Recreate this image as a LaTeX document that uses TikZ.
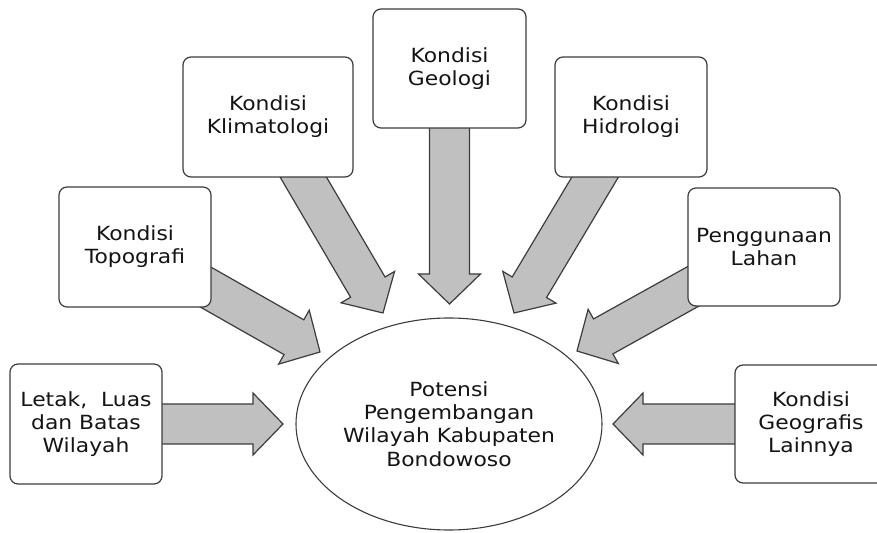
\documentclass[tikz,border=0pt]{standalone}
\usepackage{fontspec}
\setmainfont[FakeStretch=1.12]{DejaVu Sans}
\usetikzlibrary{shapes.geometric,calc,backgrounds}
\definecolor{boxline}{HTML}{3C3C3C}
\definecolor{arrowfill}{HTML}{C0C0C0}
\definecolor{textcol}{HTML}{141414}
\begin{document}
\begin{tikzpicture}[line join=bevel,
  faktor/.style={draw=boxline,fill=white,line width=1.2bp,rounded corners=8bp,minimum width=152bp,minimum height=120bp,inner sep=0pt,align=center,text=textcol,font=\fontsize{19.5bp}{23bp}\selectfont},
  pusat/.style={ellipse,draw=boxline,fill=white,line width=1.1bp,minimum width=306bp,minimum height=212bp,inner sep=0pt,align=center,text=textcol,font=\fontsize{19.5bp}{23.3bp}\selectfont},
  blockarrow/.style={draw=boxline,fill=arrowfill,line width=1.2bp,line join=miter,
    to path={($(\tikztostart)!20bp!90:(\tikztotarget)$)
      -- ($(\tikztotarget)!30bp!(\tikztostart)!20bp!-90:(\tikztostart)$)
      -- ($(\tikztotarget)!30bp!(\tikztostart)!31bp!-90:(\tikztostart)$)
      -- (\tikztotarget)
      -- ($(\tikztotarget)!30bp!(\tikztostart)!31bp!90:(\tikztostart)$)
      -- ($(\tikztotarget)!30bp!(\tikztostart)!20bp!90:(\tikztostart)$)
      -- ($(\tikztostart)!20bp!-90:(\tikztotarget)$) -- cycle}},
]
\useasboundingbox (0bp,0bp) rectangle (877bp,533bp);
%%
\node (potensi) at (449bp,109bp) [pusat] {Potensi\\Pengembangan\\Wilayah Kabupaten\\Bondowoso};
  \node (letak) at (86bp,109bp) [faktor] {Letak,~~Luas\\dan Batas\\Wilayah};
  \node (topografi) at (135bp,286bp) [faktor] {Kondisi\\Topografi};
  \node (klimatologi) at (268bp,416bp) [faktor,minimum width=170bp] {Kondisi\\Klimatologi};
  \node (geologi) at (449.5bp,464.5bp) [faktor,minimum width=153bp,minimum height=119bp] {Kondisi\\Geologi};
  \node (hidrologi) at (631bp,416bp) [faktor] {Kondisi\\Hidrologi};
  \node (lahan) at (764bp,286bp) [faktor,minimum height=118bp] {Penggunaan\\Lahan};
  \node (geografis) at (811bp,109bp) [faktor,minimum height=118bp] {Kondisi\\Geografis\\Lainnya};
%
  \coordinate (letak_tip) at (283bp,109bp);
  \coordinate (topografi_tip) at (320bp,181bp);
  \coordinate (klimatologi_tip) at (383bp,220bp);
  \coordinate (geologi_tip) at (449.5bp,229bp);
  \coordinate (hidrologi_tip) at (514bp,220bp);
  \coordinate (lahan_tip) at (577bp,182bp);
  \coordinate (geografis_tip) at (613bp,109bp);
\begin{scope}[on background layer]
  \draw [blockarrow] (letak) to (letak_tip);
  \draw [blockarrow] (topografi) to (topografi_tip);
  \draw [blockarrow] (klimatologi) to (klimatologi_tip);
  \draw [blockarrow] (geologi) to (geologi_tip);
  \draw [blockarrow] (hidrologi) to (hidrologi_tip);
  \draw [blockarrow] (lahan) to (lahan_tip);
  \draw [blockarrow] (geografis) to (geografis_tip);
\end{scope}
%
\end{tikzpicture}
\end{document}
